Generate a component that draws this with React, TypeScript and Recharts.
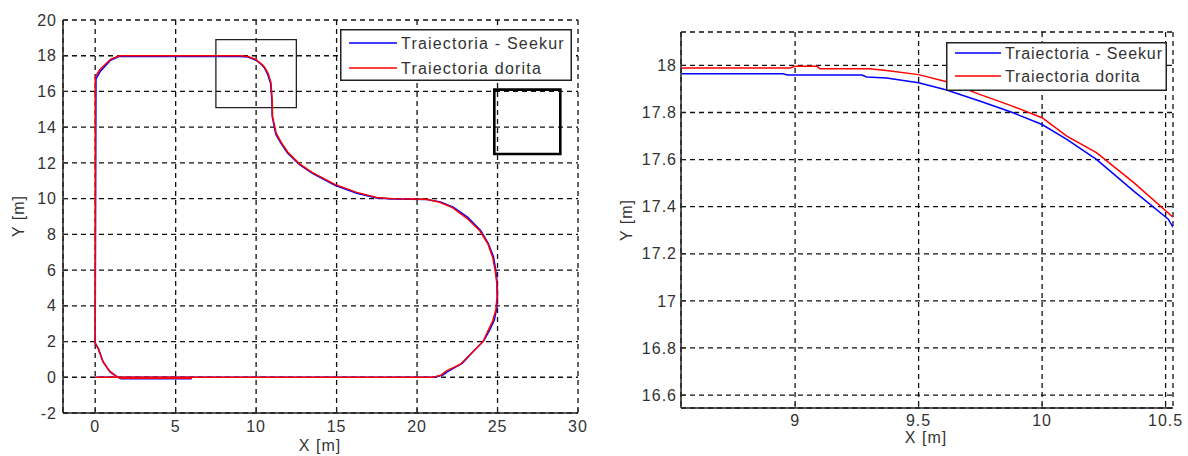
import React from 'react';
import { LineChart, Line, XAxis, YAxis, CartesianGrid, ReferenceArea } from 'recharts';

// legend labels
const seriesNames = ['Traiectoria - Seekur', 'Traiectoria dorita'];

// tick labels
const leftXTicks = [0, 5, 10, 15, 20, 25, 30];
const leftYTicks = [-2, 0, 2, 4, 6, 8, 10, 12, 14, 16, 18, 20];
const rightXTicks = [9, 9.5, 10, 10.5];
const rightYTicks = [16.6, 16.8, 17, 17.2, 17.4, 17.6, 17.8, 18];

// full run, reference path (x, y in m)
const doritaFull = [
  { x: 0, y: 0 }, { x: 21, y: 0 }, { x: 21.5, y: 0.12 }, { x: 21.8, y: 0.34 }, { x: 22.7, y: 0.73 },
  { x: 23.5, y: 1.46 }, { x: 24.1, y: 2.0 }, { x: 24.4, y: 2.58 }, { x: 24.7, y: 3.15 },
  { x: 24.9, y: 3.8 }, { x: 24.97, y: 4.5 }, { x: 24.95, y: 5.3 }, { x: 24.85, y: 6.0 },
  { x: 24.7, y: 6.7 }, { x: 24.4, y: 7.47 },
  { x: 23.9, y: 8.2 }, { x: 23.1, y: 8.9 }, { x: 22.2, y: 9.5 }, { x: 21.4, y: 9.8 },
  { x: 20.6, y: 9.96 }, { x: 18.5, y: 10.0 }, { x: 17.5, y: 10.06 }, { x: 16.25, y: 10.35 },
  { x: 14.9, y: 10.8 }, { x: 13.5, y: 11.46 }, { x: 12.7, y: 11.95 }, { x: 11.97, y: 12.6 },
  { x: 11.56, y: 13.15 }, { x: 11.25, y: 13.65 }, { x: 11.02, y: 14.6 }, { x: 11.0, y: 15.5 },
  { x: 10.92, y: 16.5 }, { x: 10.75, y: 17.0 }, { x: 10.53, y: 17.36 }, { x: 10.37, y: 17.5 },
  { x: 10.0, y: 17.78 }, { x: 9.5, y: 17.96 }, { x: 9.0, y: 18.0 }, { x: 1.5, y: 18.0 },
  { x: 0.95, y: 17.8 }, { x: 0.27, y: 17.2 }, { x: 0, y: 16.8 }, { x: 0, y: 1.93 },
  { x: 0.16, y: 1.65 }, { x: 0.47, y: 0.9 }, { x: 0.9, y: 0.34 }, { x: 1.3, y: 0.06 },
  { x: 1.6, y: -0.05 }, { x: 6.0, y: -0.05 },
];

// full run, measured Seekur path
const seekurFull = [
  { x: 0, y: 0 }, { x: 21.1, y: 0 }, { x: 21.6, y: 0.13 }, { x: 21.9, y: 0.32 }, { x: 22.8, y: 0.78 },
  { x: 23.55, y: 1.5 }, { x: 24.15, y: 2.05 }, { x: 24.5, y: 2.62 }, { x: 24.8, y: 3.2 },
  { x: 24.95, y: 3.85 }, { x: 25.0, y: 4.5 }, { x: 24.98, y: 5.3 }, { x: 24.88, y: 6.05 },
  { x: 24.75, y: 6.75 }, { x: 24.42, y: 7.5 },
  { x: 23.95, y: 8.22 }, { x: 23.15, y: 8.95 }, { x: 22.25, y: 9.52 }, { x: 21.45, y: 9.82 },
  { x: 20.6, y: 9.95 }, { x: 18.5, y: 9.98 }, { x: 17.5, y: 10.03 }, { x: 16.25, y: 10.3 },
  { x: 14.9, y: 10.75 }, { x: 13.5, y: 11.42 }, { x: 12.7, y: 11.9 }, { x: 11.95, y: 12.55 },
  { x: 11.55, y: 13.1 }, { x: 11.22, y: 13.6 }, { x: 11.0, y: 14.6 }, { x: 10.98, y: 15.5 },
  { x: 10.9, y: 16.45 }, { x: 10.72, y: 16.95 }, { x: 10.51, y: 17.33 }, { x: 10.37, y: 17.47 },
  { x: 10.0, y: 17.75 }, { x: 9.5, y: 17.93 }, { x: 9.0, y: 17.96 }, { x: 1.5, y: 17.97 },
  { x: 0.95, y: 17.75 }, { x: 0.3, y: 17.1 }, { x: 0.05, y: 16.7 }, { x: 0, y: 1.9 },
  { x: 0.2, y: 1.6 }, { x: 0.5, y: 0.85 }, { x: 0.92, y: 0.3 }, { x: 1.35, y: 0.03 },
  { x: 1.6, y: -0.08 }, { x: 6.0, y: -0.08 },
];

// zoomed detail, reference path
const doritaZoom = [
  { x: 8.54, y: 17.989 }, { x: 8.98, y: 17.989 }, { x: 9.0, y: 17.996 }, { x: 9.09, y: 17.996 },
  { x: 9.1, y: 17.986 }, { x: 9.3, y: 17.986 }, { x: 9.37, y: 17.978 }, { x: 9.5, y: 17.961 },
  { x: 9.61, y: 17.932 }, { x: 9.75, y: 17.876 }, { x: 9.88, y: 17.827 }, { x: 10.0, y: 17.778 },
  { x: 10.1, y: 17.7 }, { x: 10.22, y: 17.63 }, { x: 10.37, y: 17.503 }, { x: 10.53, y: 17.355 },
];

// zoomed detail, measured Seekur path
const seekurZoom = [
  { x: 8.54, y: 17.965 }, { x: 8.95, y: 17.965 }, { x: 8.97, y: 17.959 }, { x: 9.27, y: 17.959 },
  { x: 9.29, y: 17.951 }, { x: 9.37, y: 17.947 }, { x: 9.5, y: 17.926 }, { x: 9.61, y: 17.897 },
  { x: 9.75, y: 17.848 }, { x: 9.88, y: 17.8 }, { x: 10.0, y: 17.749 }, { x: 10.1, y: 17.686 },
  { x: 10.22, y: 17.601 }, { x: 10.37, y: 17.467 }, { x: 10.51, y: 17.348 }, { x: 10.53, y: 17.313 },
];

// rectangles marked on the full run
const zoomBoxes = [
  { x1: 7.5, x2: 12.5, y1: 15.1, y2: 18.9 },
  { x1: 24.8, x2: 28.9, y1: 12.5, y2: 16.1 },
];

const TXT = '#333';
const tickStyle = { fill: TXT, fontSize: 16, letterSpacing: 1 };

const AxisTitle = ({ x, y, text, rotate }: { x: number; y: number; text: string; rotate?: boolean }) => (
  <text
    x={x}
    y={y}
    fill={TXT}
    fontSize={16}
    letterSpacing={1}
    textAnchor="middle"
    dominantBaseline={rotate ? 'central' : 'alphabetic'}
    transform={rotate ? `rotate(-90 ${x} ${y})` : undefined}
  >
    {text}
  </text>
);

const LegendBox = ({ left, top, width, height, lineX, lineLen, rows, spacing }: any) => (
  <div style={{ position: 'absolute', left, top, width, height }}>
    <svg width={width} height={height}>
      <rect x={0.75} y={0.75} width={width - 1.5} height={height - 1.5} fill="#fff" stroke="#222" strokeWidth={1.5} />
      {seriesNames.map((name, i) => (
        <g key={name}>
          <line x1={lineX} x2={lineX + lineLen} y1={rows[i]} y2={rows[i]} stroke={i === 0 ? '#0000ff' : '#ff0000'} strokeWidth={1.5} />
          <text x={lineX + lineLen + 4} y={rows[i]} dominantBaseline="central" fill={TXT} fontSize={16} letterSpacing={spacing}>
            {name}
          </text>
        </g>
      ))}
    </svg>
  </div>
);

export default function App() {
  return (
    <div style={{ position: 'absolute', left: 0, top: 0, width: 1188, height: 456, background: '#fff', fontFamily: '"Liberation Sans", Arial, sans-serif', overflow: 'hidden' }}>
      {/* full trajectory */}
      <div style={{ position: 'absolute', left: 0, top: 0 }}>
        <LineChart width={590} height={456} margin={{ top: 20, right: 12, left: 0, bottom: 0 }}>
          <CartesianGrid stroke="#111" strokeWidth={1.3} strokeDasharray="5 4" />
          <XAxis
            dataKey="x" type="number" domain={[-2, 30]} ticks={leftXTicks} allowDataOverflow interval={0}
            height={43} tick={tickStyle} tickSize={-5} tickMargin={13}
            axisLine={{ stroke: '#222', strokeWidth: 1.5 }} tickLine={{ stroke: '#222' }}
            label={{ content: () => <AxisTitle x={320} y={451} text="X [m]" /> }}
          />
          <XAxis xAxisId="top" orientation="top" dataKey="x" type="number" domain={[-2, 30]} height={0} tick={false} axisLine={{ stroke: '#222', strokeWidth: 1.5 }} />
          <YAxis
            dataKey="y" type="number" domain={[-2, 20]} ticks={leftYTicks} allowDataOverflow interval={0}
            width={63} tick={tickStyle} tickSize={-5} tickMargin={11}
            axisLine={{ stroke: '#222', strokeWidth: 1.5 }} tickLine={{ stroke: '#222' }}
            label={{ content: () => <AxisTitle x={18} y={216} text="Y [m]" rotate /> }}
          />
          <YAxis yAxisId="right" orientation="right" type="number" domain={[-2, 20]} width={0} tick={false} axisLine={{ stroke: '#222', strokeWidth: 1.5 }} />
          <ReferenceArea x1={zoomBoxes[0].x1} x2={zoomBoxes[0].x2} y1={zoomBoxes[0].y1} y2={zoomBoxes[0].y2} fill="none" stroke="#222" strokeWidth={1.3} ifOverflow="visible" />
          <ReferenceArea x1={zoomBoxes[1].x1} x2={zoomBoxes[1].x2} y1={zoomBoxes[1].y1} y2={zoomBoxes[1].y2} fill="none" stroke="#000" strokeWidth={2.6} ifOverflow="visible" />
          <Line data={seekurFull} dataKey="y" type="linear" stroke="#0000ff" strokeWidth={1.5} dot={false} isAnimationActive={false} />
          <Line data={doritaFull} dataKey="y" type="linear" stroke="#ff0000" strokeWidth={1.5} dot={false} isAnimationActive={false} />
        </LineChart>
        <LegendBox left={340} top={29} width={232} height={52} lineX={9} lineLen={48} rows={[14, 39]} spacing={1.2} />
      </div>

      {/* zoomed detail */}
      <div style={{ position: 'absolute', left: 590, top: 0 }}>
        <LineChart width={598} height={456} margin={{ top: 32, right: 15, left: 0, bottom: 0 }}>
          <CartesianGrid stroke="#111" strokeWidth={1.3} strokeDasharray="5 4" />
          <XAxis
            dataKey="x" type="number" domain={[8.538, 10.53]} ticks={rightXTicks} allowDataOverflow interval={0}
            height={48} tick={tickStyle} tickSize={-5} tickMargin={12}
            axisLine={{ stroke: '#222', strokeWidth: 1.5 }} tickLine={{ stroke: '#222' }}
            label={{ content: () => <AxisTitle x={336} y={443} text="X [m]" /> }}
          />
          <XAxis xAxisId="top" orientation="top" dataKey="x" type="number" domain={[8.538, 10.53]} height={0} tick={false} axisLine={{ stroke: '#222', strokeWidth: 1.5 }} />
          <YAxis
            dataKey="y" type="number" domain={[16.545, 18.142]} ticks={rightYTicks} allowDataOverflow interval={0}
            width={91} tick={tickStyle} tickSize={-5} tickMargin={9}
            axisLine={{ stroke: '#222', strokeWidth: 1.5 }} tickLine={{ stroke: '#222' }}
            label={{ content: () => <AxisTitle x={36} y={220} text="Y [m]" rotate /> }}
          />
          <YAxis yAxisId="right" orientation="right" type="number" domain={[16.545, 18.142]} width={0} tick={false} axisLine={{ stroke: '#222', strokeWidth: 1.5 }} />
          <Line data={seekurZoom} dataKey="y" type="linear" stroke="#0000ff" strokeWidth={1.5} dot={false} isAnimationActive={false} />
          <Line data={doritaZoom} dataKey="y" type="linear" stroke="#ff0000" strokeWidth={1.5} dot={false} isAnimationActive={false} />
        </LineChart>
        <LegendBox left={356} top={42} width={221} height={49} lineX={9} lineLen={46} rows={[11, 34]} spacing={0.9} />
      </div>
    </div>
  );
}
